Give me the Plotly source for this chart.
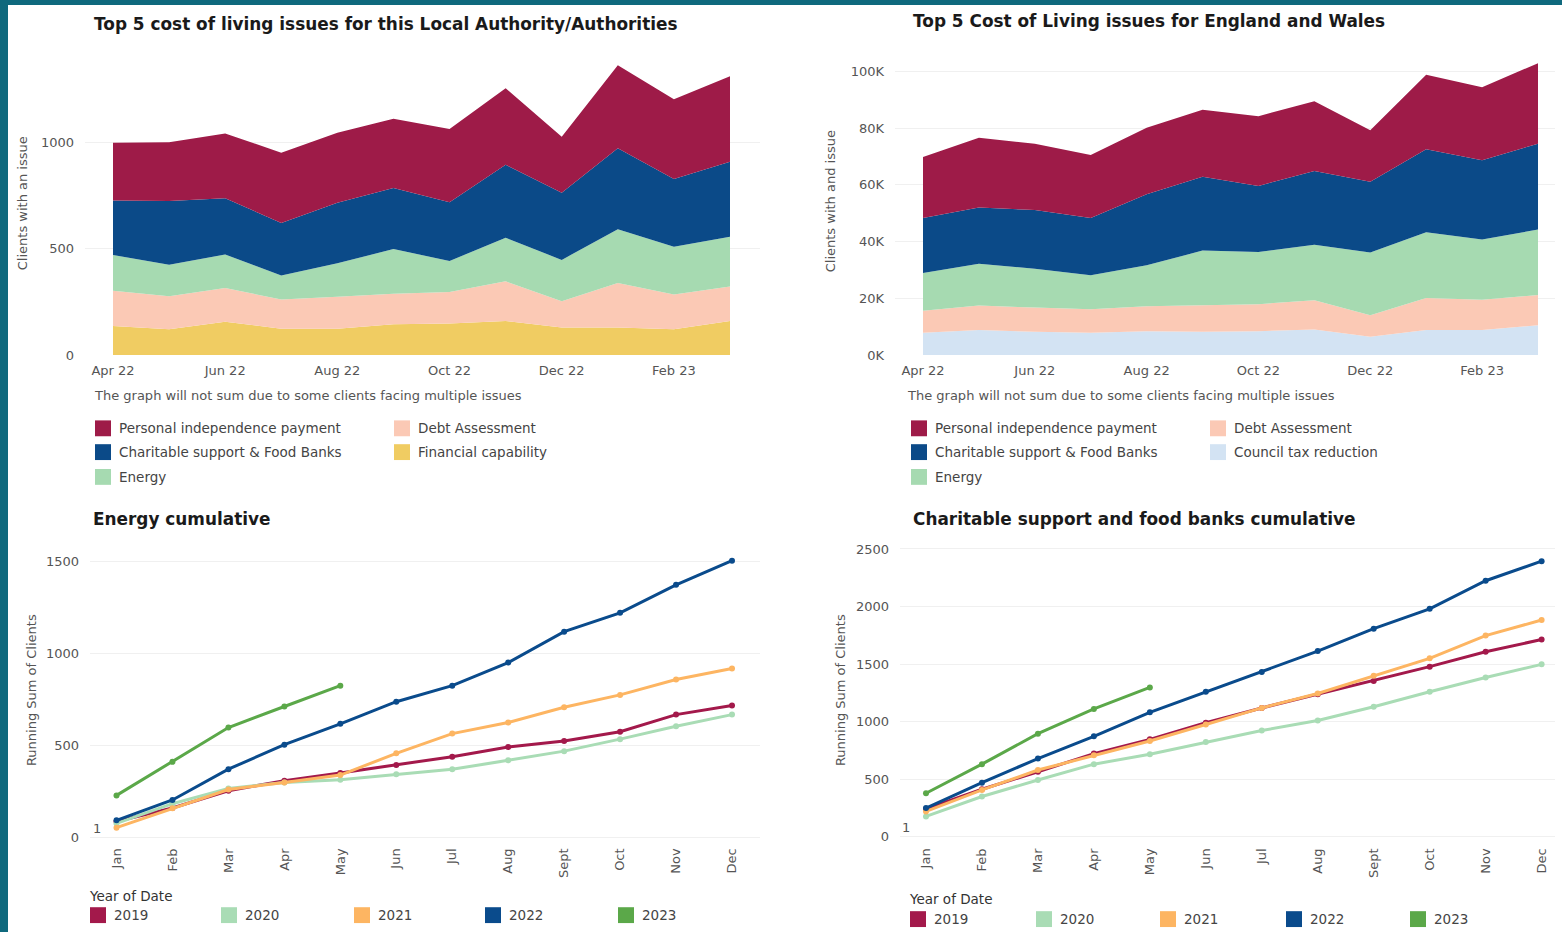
import plotly.graph_objects as go

W, H = 1562, 940

# ---------------- data ----------------
months_top = ["Apr 22", "May 22", "Jun 22", "Jul 22", "Aug 22", "Sep 22",
              "Oct 22", "Nov 22", "Dec 22", "Jan 23", "Feb 23", "Mar 23"]
top_ticks = ["Apr 22", "Jun 22", "Aug 22", "Oct 22", "Dec 22", "Feb 23"]

la_fin_cap = [137, 121, 157, 124, 124, 145, 148, 160, 129, 129, 121, 160]
la_debt = [166, 156, 159, 137, 150, 144, 149, 187, 124, 210, 164, 163]
la_energy = [168, 148, 158, 114, 158, 210, 146, 205, 195, 254, 225, 234]
la_charity = [257, 300, 265, 247, 285, 288, 277, 344, 316, 381, 319, 353]
la_pip = [272, 278, 305, 331, 330, 326, 345, 361, 264, 391, 376, 404]

ew_council = [7800, 8800, 8200, 7800, 8400, 8200, 8400, 9000, 6400, 8800, 8800, 10500]
ew_debt = [7800, 8600, 8500, 8300, 8800, 9300, 9500, 10300, 7600, 11300, 10700, 10600]
ew_energy = [13300, 14800, 13700, 12000, 14400, 19300, 18400, 19600, 22100, 23200, 21200, 23100]
ew_charity = [19400, 19800, 20700, 20200, 25100, 26000, 23300, 26000, 25000, 29200, 28000, 30300]
ew_pip = [21500, 24600, 23400, 22200, 23400, 23700, 24600, 24600, 18100, 26300, 25700, 28400]

ew_tickvals = [0, 20000, 40000, 60000, 80000, 100000]
ew_ticktext = ["0K", "20K", "40K", "60K", "80K", "100K"]

months = ["Jan", "Feb", "Mar", "Apr", "May", "Jun", "Jul", "Aug", "Sept", "Oct", "Nov", "Dec"]
years = ["2019", "2020", "2021", "2022", "2023"]

energy_2019 = [88, 162, 255, 310, 352, 395, 440, 492, 525, 575, 668, 718]
energy_2020 = [78, 185, 268, 300, 315, 345, 372, 420, 470, 535, 605, 668]
energy_2021 = [55, 160, 262, 300, 340, 458, 565, 625, 708, 775, 858, 918]
energy_2022 = [95, 205, 372, 505, 618, 738, 825, 950, 1118, 1220, 1372, 1503]
energy_2023 = [230, 412, 598, 712, 825]

char_2019 = [239, 411, 563, 721, 845, 989, 1118, 1236, 1353, 1477, 1606, 1713]
char_2020 = [175, 348, 491, 629, 716, 822, 922, 1009, 1129, 1259, 1382, 1497]
char_2021 = [218, 405, 578, 707, 830, 974, 1118, 1244, 1397, 1549, 1747, 1882]
char_2022 = [247, 468, 678, 871, 1080, 1259, 1431, 1612, 1807, 1980, 2224, 2394]
char_2023 = [376, 629, 894, 1109, 1296]

# ---------------- styles ----------------
FONT = "DejaVu Sans, Liberation Sans, Arial, sans-serif"
C_PIP = "#9e1b48"
C_CHAR = "#0b4a88"
C_ENERGY = "#a6dab1"
C_DEBT = "#fbc9b5"
C_FIN = "#f0cc62"
C_COUNCIL = "#d3e3f3"
YEAR_COLORS = ["#a3194b", "#a9dcb5", "#fdb562", "#0a4b8c", "#5ba849"]
TEAL = "#0f697d"
GRID = "#f0f0f0"
TXT = "#555555"


def px(x):
    return x / W


def py(y):
    return 1 - y / H


fig = go.Figure()

la_series = [("Financial capability", la_fin_cap, C_FIN),
             ("Debt Assessment", la_debt, C_DEBT),
             ("Energy", la_energy, C_ENERGY),
             ("Charitable support & Food Banks", la_charity, C_CHAR),
             ("Personal independence payment", la_pip, C_PIP)]
for name, vals, col in la_series:
    fig.add_trace(go.Scatter(x=months_top, y=vals, name=name, mode="lines",
                             stackgroup="la", line=dict(width=0, color=col),
                             fillcolor=col, xaxis="x", yaxis="y", showlegend=False))

ew_series = [("Council tax reduction", ew_council, C_COUNCIL),
             ("Debt Assessment", ew_debt, C_DEBT),
             ("Energy", ew_energy, C_ENERGY),
             ("Charitable support & Food Banks", ew_charity, C_CHAR),
             ("Personal independence payment", ew_pip, C_PIP)]
for name, vals, col in ew_series:
    fig.add_trace(go.Scatter(x=months_top, y=vals, name=name, mode="lines",
                             stackgroup="ew", line=dict(width=0, color=col),
                             fillcolor=col, xaxis="x2", yaxis="y2", showlegend=False))

energy_lines = [energy_2019, energy_2020, energy_2021, energy_2022, energy_2023]
char_lines = [char_2019, char_2020, char_2021, char_2022, char_2023]
for yr, vals, col in zip(years, energy_lines, YEAR_COLORS):
    fig.add_trace(go.Scatter(x=months[:len(vals)], y=vals, name=yr, mode="lines+markers",
                             line=dict(width=3, color=col), marker=dict(size=6, color=col),
                             xaxis="x3", yaxis="y3", showlegend=False))
for yr, vals, col in zip(years, char_lines, YEAR_COLORS):
    fig.add_trace(go.Scatter(x=months[:len(vals)], y=vals, name=yr, mode="lines+markers",
                             line=dict(width=3, color=col), marker=dict(size=6, color=col),
                             xaxis="x4", yaxis="y4", showlegend=False))

tickfont = dict(family=FONT, size=13, color=TXT)


def xaxis_cfg(d0, d1, rng, anchor, tickvals=None, angle=0):
    cfg = dict(domain=[px(d0), px(d1)], range=rng, anchor=anchor, type="category",
               showgrid=False, zeroline=False, showline=False, ticks="",
               tickfont=tickfont, tickangle=angle, fixedrange=True)
    if tickvals is not None:
        cfg["tickvals"] = tickvals
    return cfg


def yaxis_cfg(b0, b1, rng, anchor, tickvals, ticktext=None):
    cfg = dict(domain=[py(b1), py(b0)], range=rng, anchor=anchor,
               showgrid=True, gridcolor=GRID, gridwidth=1, zeroline=False,
               showline=False, ticks="", tickvals=tickvals, tickfont=tickfont,
               fixedrange=True)
    if ticktext is not None:
        cfg["ticktext"] = ticktext
    return cfg


s1 = (730 - 113) / 11
fig.update_layout(
    xaxis=xaxis_cfg(85, 760, [(85 - 113) / s1, (760 - 113) / s1], "y", top_ticks),
    yaxis=yaxis_cfg(50, 358, [0, (358 - 50) / 0.214], "x", [0, 500, 1000]),
)
s2 = (1538 - 923) / 11
fig.update_layout(
    xaxis2=xaxis_cfg(895, 1555, [(895 - 923) / s2, (1555 - 923) / s2], "y2", top_ticks),
    yaxis2=yaxis_cfg(50, 358, [0, (358 - 50) / 0.00286], "x2", ew_tickvals, ew_ticktext),
)
s3 = (732 - 116.5) / 11
k3 = (845 - 566) / 1500
fig.update_layout(
    xaxis3=xaxis_cfg(90, 760, [(90 - 116.5) / s3, (760 - 116.5) / s3], "y3", None, -90),
    yaxis3=yaxis_cfg(545, 848, [-(848 - 845) / k3, (845 - 545) / k3], "x3", [0, 500, 1000, 1500]),
)
s4 = (1541.6 - 926) / 11
k4 = (843.7 - 553.7) / 2500
fig.update_layout(
    xaxis4=xaxis_cfg(900, 1555, [(900 - 926) / s4, (1555 - 926) / s4], "y4", None, -90),
    yaxis4=yaxis_cfg(545, 848, [-(848 - 843.7) / k4, (843.7 - 545) / k4], "x4",
                     [0, 500, 1000, 1500, 2000, 2500]),
)
for ax in ["yaxis", "yaxis2", "yaxis3", "yaxis4"]:
    fig.layout[ax].ticklabelstandoff = 10
for ax in ["xaxis", "xaxis2"]:
    fig.layout[ax].ticklabelstandoff = 6
for ax in ["xaxis3", "xaxis4"]:
    fig.layout[ax].ticklabelstandoff = 4

annotations = []
shapes = []


def text(x, y, s, size=13, color=TXT, bold=False, anchor="left", angle=0):
    annotations.append(dict(x=px(x), y=py(y), xref="paper", yref="paper", text=s,
                            showarrow=False, xanchor=anchor, yanchor="middle",
                            textangle=angle,
                            font=dict(family=FONT, size=size, color=color,
                                      weight="bold" if bold else "normal")))


def square(x, y, col, size=16):
    shapes.append(dict(type="rect", xref="paper", yref="paper",
                       x0=px(x), x1=px(x + size), y0=py(y + size / 2), y1=py(y - size / 2),
                       fillcolor=col, line=dict(width=0)))


TS = 16.9
text(92, 24, "Top 5 cost of living issues for this Local Authority/Authorities", TS, "#1a1a1a", True)
text(911, 21, "Top 5 Cost of Living issues for England and Wales", TS, "#1a1a1a", True)
text(91, 523, "Energy cumulative", TS, "#1a1a1a", True)
text(911, 523, "Charitable support and food banks cumulative", TS, "#1a1a1a", True)

text(22, 205, "Clients with an issue", 13, TXT, anchor="center", angle=-90)
text(830, 203, "Clients with and issue", 13, TXT, anchor="center", angle=-90)
text(31, 696, "Running Sum of Clients", 13, TXT, anchor="center", angle=-90)
text(840, 696, "Running Sum of Clients", 13, TXT, anchor="center", angle=-90)
text(97, 836, "1", 13, TXT, anchor="center")
text(906, 835, "1", 13, TXT, anchor="center")

NOTE = "The graph will not sum due to some clients facing multiple issues"
text(92, 399, NOTE, 13, TXT)
text(905, 399, NOTE, 13, TXT)

la_leg = [la_series[4], la_series[3], la_series[2], la_series[1], la_series[0]]
ew_leg = [ew_series[4], ew_series[3], ew_series[2], ew_series[1], ew_series[0]]
leg_pos = [(0, 432), (0, 456), (0, 481), (1, 432), (1, 456)]
for (name, _, col), (c, y) in zip(la_leg, leg_pos):
    x0 = 95 if c == 0 else 394
    square(x0, y, col)
    text(x0 + 22, y, name, 13.5, "#444444")
for (name, _, col), (c, y) in zip(ew_leg, leg_pos):
    x0 = 911 if c == 0 else 1210
    square(x0, y, col)
    text(x0 + 22, y, name, 13.5, "#444444")

text(87, 904, "Year of Date", 13.5, "#333333")
for yr, col, x0 in zip(years, YEAR_COLORS, [90, 221, 354, 485, 618]):
    square(x0, 923, col)
    text(x0 + 22, 923, yr, 13.5, "#444444")
text(907, 907, "Year of Date", 13.5, "#333333")
for yr, col, x0 in zip(years, YEAR_COLORS, [910, 1036, 1160, 1286, 1410]):
    square(x0, 927, col)
    text(x0 + 22, 927, yr, 13.5, "#444444")

shapes.append(dict(type="rect", xref="paper", yref="paper", x0=0, x1=px(8), y0=0, y1=1,
                   fillcolor=TEAL, line=dict(width=0), layer="above"))
shapes.append(dict(type="rect", xref="paper", yref="paper", x0=0, x1=1, y0=py(5), y1=1,
                   fillcolor=TEAL, line=dict(width=0), layer="above"))

fig.update_layout(
    width=W, height=H, margin=dict(l=0, r=0, t=0, b=0, pad=0),
    paper_bgcolor="white", plot_bgcolor="white",
    font=dict(family=FONT, size=13, color=TXT),
    annotations=annotations, shapes=shapes, showlegend=False,
    hovermode="closest",
)

fig.write_html("out.html", config={"displayModeBar": False})
